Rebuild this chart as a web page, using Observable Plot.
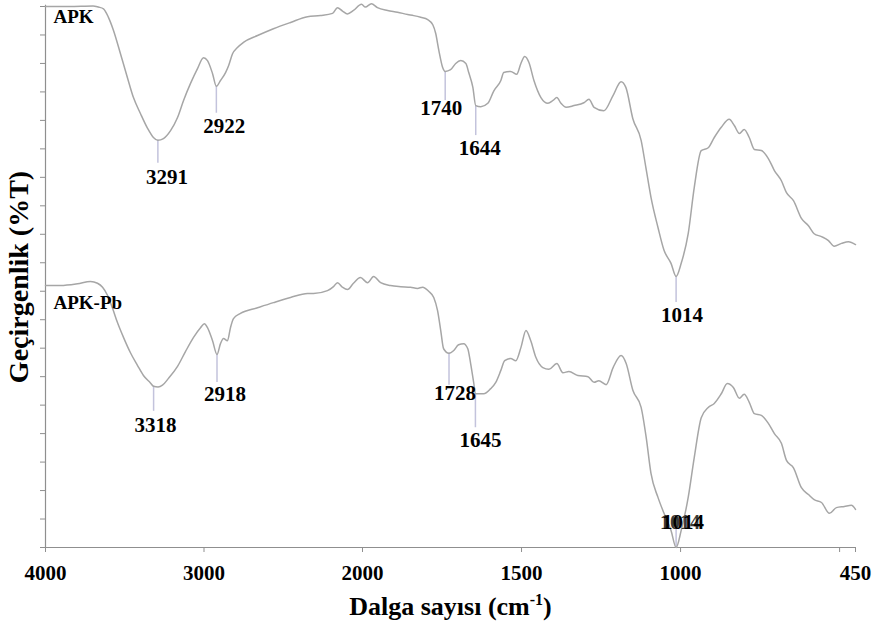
<!DOCTYPE html>
<html>
<head>
<meta charset="utf-8">
<script src="https://cdn.jsdelivr.net/npm/d3@7"></script>
<script src="https://cdn.jsdelivr.net/npm/@observablehq/plot@0.6"></script>
<style>
  html, body { margin: 0; padding: 0; background: #fff; }
  #chart svg { display: block; }
</style>
</head>
<body>
<div id="chart"></div>
<script>
// FTIR spectra: wavenumber (cm-1) and transmittance (%T)
const apkWavenumber = [4000, 3850, 3700, 3666, 3634, 3603, 3571, 3527, 3483, 3445, 3401, 3356, 3319, 3291, 3256, 3211, 3167, 3129, 3085, 3041, 3003, 2978, 2946, 2922, 2896, 2864, 2845, 2820, 2789, 2751, 2662, 2562, 2454, 2347, 2265, 2189, 2158, 2126, 2095, 2057, 2006, 1991, 1972, 1953, 1921, 1890, 1858, 1839, 1817, 1795, 1779, 1770, 1760, 1748, 1740, 1723, 1707, 1691, 1675, 1666, 1653, 1644, 1628, 1606, 1587, 1565, 1556, 1534, 1515, 1502, 1490, 1477, 1461, 1439, 1417, 1401, 1389, 1376, 1360, 1335, 1304, 1288, 1272, 1241, 1212, 1187, 1172, 1150, 1124, 1109, 1093, 1071, 1052, 1030, 1014, 998, 976, 957, 935, 913, 894, 872, 847, 831, 815, 800, 784, 768, 746, 724, 705, 683, 667, 645, 620, 598, 580, 557, 535, 517, 494, 472, 450];
const apkT = [95.0, 95.0, 95.1, 94.9, 94.6, 93.1, 90.8, 86.7, 82.5, 79.0, 76.2, 73.6, 72.0, 71.5, 71.8, 73.2, 75.5, 78.5, 81.5, 84.1, 86.0, 85.5, 83.2, 81.0, 82.0, 83.4, 84.6, 86.7, 87.8, 88.7, 89.9, 91.1, 92.2, 93.2, 93.4, 93.8, 94.8, 94.2, 93.7, 94.3, 95.4, 94.9, 95.5, 94.8, 94.3, 94.0, 93.6, 93.4, 93.1, 92.7, 91.8, 90.3, 87.3, 84.3, 83.6, 83.9, 85.0, 85.5, 85.0, 83.4, 80.8, 77.6, 77.4, 78.0, 80.2, 82.0, 83.4, 83.6, 83.1, 85.0, 86.2, 85.2, 82.0, 79.0, 78.0, 78.5, 79.0, 78.0, 77.3, 77.6, 78.1, 78.7, 77.3, 76.7, 79.4, 81.8, 80.8, 75.3, 71.5, 66.7, 61.5, 56.2, 52.2, 49.9, 47.6, 49.9, 55.1, 63.2, 69.7, 70.2, 72.0, 73.8, 75.2, 74.1, 72.7, 73.4, 72.0, 69.9, 69.7, 68.3, 66.2, 64.4, 62.3, 60.9, 57.8, 56.5, 55.1, 54.6, 53.9, 52.9, 53.4, 53.7, 53.2];

const apkPbWavenumber = [4000, 3905, 3798, 3716, 3672, 3640, 3609, 3577, 3546, 3508, 3464, 3420, 3382, 3338, 3318, 3290, 3262, 3224, 3167, 3117, 3066, 3022, 2997, 2978, 2946, 2918, 2896, 2877, 2852, 2833, 2814, 2770, 2662, 2562, 2454, 2347, 2309, 2221, 2183, 2158, 2126, 2095, 2057, 2013, 1984, 1965, 1943, 1912, 1880, 1849, 1827, 1811, 1792, 1776, 1764, 1754, 1745, 1728, 1713, 1698, 1682, 1669, 1660, 1650, 1645, 1619, 1597, 1581, 1565, 1553, 1534, 1518, 1502, 1486, 1471, 1455, 1433, 1414, 1389, 1370, 1351, 1323, 1291, 1272, 1257, 1234, 1212, 1187, 1171, 1150, 1124, 1108, 1093, 1071, 1052, 1030, 1014, 998, 976, 957, 935, 913, 894, 872, 853, 834, 815, 800, 784, 768, 746, 724, 705, 683, 667, 645, 620, 598, 580, 557, 532, 510, 485, 463, 450];
const apkPbT = [46.0, 46.0, 46.3, 46.7, 46.4, 45.7, 44.3, 42.0, 39.5, 36.9, 34.2, 32.0, 30.2, 28.9, 28.3, 28.2, 28.5, 29.7, 31.8, 34.4, 36.9, 38.6, 39.3, 38.6, 36.3, 33.9, 35.8, 36.7, 36.3, 38.6, 40.2, 41.1, 42.1, 43.0, 43.9, 44.6, 44.6, 45.1, 45.8, 46.5, 45.7, 45.3, 46.4, 47.4, 46.5, 47.6, 46.5, 46.0, 45.8, 45.7, 45.5, 45.7, 45.0, 43.9, 41.6, 38.1, 34.9, 34.1, 34.6, 35.6, 35.8, 34.9, 32.3, 28.8, 27.0, 27.0, 27.9, 29.0, 31.1, 32.8, 33.2, 32.8, 35.1, 38.1, 36.3, 33.4, 31.6, 31.3, 32.3, 30.7, 30.9, 30.2, 30.0, 29.0, 29.3, 28.6, 31.6, 33.7, 32.3, 27.6, 24.6, 19.3, 13.0, 8.8, 6.0, 3.0, 0.0, 3.0, 8.8, 15.8, 22.8, 24.6, 25.3, 27.0, 28.8, 28.1, 26.2, 26.9, 25.5, 23.5, 23.2, 21.8, 20.0, 18.3, 15.3, 14.0, 10.5, 9.3, 8.4, 7.9, 6.0, 7.0, 7.2, 7.4, 6.7];

// Labelled band positions (cm-1)
const apkPeaks = [3291, 2922, 1740, 1644, 1014];
const apkPbPeaks = [3318, 2918, 1728, 1645, 1014];

// Series names and axis text
const seriesNames = ["APK", "APK-Pb"];
const xTicks = [4000, 3000, 2000, 1500, 1000, 500, 450];
const xTickLabels = ["4000", "3000", "2000", "1500", "1000", "", "450"];
const yTicks = d3.range(0, 96, 5);
const xTitle = "Dalga sayısı (cm-1)";
const yTitle = "Geçirgenlik (%T)";

// ---- layout ----
const serif = "'Liberation Serif', 'Times New Roman', serif";
const lineColor = "#a6a6a6";
const leaderColor = "#c3c3dc";
const axisColor = "#8f8f8f";
const pxPerUnit = 541 / 95;

// leader length and label offsets in pixels, one row per band label
const apkLabelLayout = [
  {lead: 23, dx: 9, dy: 37},
  {lead: 27, dx: 8, dy: 40},
  {lead: 29, dx: -4, dy: 37},
  {lead: 30, dx: 4, dy: 43},
  {lead: 26, dx: 6, dy: 39}
];
const apkPbLabelLayout = [
  {lead: 25, dx: 2, dy: 39},
  {lead: 28, dx: 8, dy: 40},
  {lead: 32, dx: 6, dy: 40},
  {lead: 34, dx: 5, dy: 47},
  {lead: -20, dx: 7, dy: -25}
];

const toRows = (wn, t, series) => wn.map((w, i) => ({w, t: t[i], series}));
const apkRows = toRows(apkWavenumber, apkT, seriesNames[0]);
const apkPbRows = toRows(apkPbWavenumber, apkPbT, seriesNames[1]);

function peakRows(peaks, rows, layout) {
  return peaks.map((p, i) => {
    const r = rows.find(d => d.w === p);
    return {w: p, t: r.t, label: String(p), ...layout[i]};
  });
}
const peakData = [
  ...peakRows(apkPeaks, apkRows, apkLabelLayout),
  ...peakRows(apkPbPeaks, apkPbRows, apkPbLabelLayout)
];
const lastLabel = peakData[peakData.length - 1];

const textStyle = {fontFamily: serif, fontWeight: "bold", fill: "black"};
const labelY = d => d.t - d.dy / pxPerUnit;

const chart = Plot.plot({
  width: 883,
  height: 630,
  marginLeft: 45,
  marginRight: 28,
  marginTop: 6,
  marginBottom: 83,
  style: {background: "white", overflow: "visible"},
  x: {type: "linear", domain: [4000, 2000, 450], range: [45, 362, 855]},
  y: {domain: [0, 95], range: [547, 6]},
  marks: [
    // axis lines
    Plot.ruleX([4000], {y1: 0, y2: 95.2, stroke: axisColor, strokeWidth: 1.2}),
    Plot.ruleY([0], {x1: 4000, x2: 450, stroke: axisColor, strokeWidth: 1.2}),
    Plot.axisY({ticks: yTicks, tickSize: 5, tickFormat: () => "", stroke: axisColor, label: null}),
    Plot.axisX({
      ticks: xTicks, tickSize: 5, tickPadding: 13,
      tickFormat: d => xTickLabels[xTicks.indexOf(d)],
      fontSize: 21, ...textStyle, stroke: axisColor, label: null
    }),
    // leader lines from band minima to labels
    Plot.ruleX(peakData, {
      x: "w", y1: "t", y2: d => d.t - d.lead / pxPerUnit,
      stroke: leaderColor, strokeWidth: 1.5
    }),
    // spectra
    Plot.line(apkRows, {x: "w", y: "t", stroke: lineColor, strokeWidth: 1.5, curve: "monotone-x"}),
    Plot.line(apkPbRows, {x: "w", y: "t", stroke: lineColor, strokeWidth: 1.5, curve: "monotone-x"}),
    // the lower 1014 label is printed twice, slightly offset
    Plot.text([lastLabel], {
      x: "w", y: labelY, text: "label",
      dx: lastLabel.dx - 3, fontSize: 20, ...textStyle, fill: "#3a3a3a"
    }),
    // band labels, each with its own offset
    ...peakData.map(d => Plot.text([d], {
      x: "w", y: labelY, text: "label",
      dx: d.dx, fontSize: 21, ...textStyle
    })),
    // series names
    Plot.text(seriesNames, {
      x: 4000, y: [93.2, 43.0], text: d => d,
      textAnchor: "start", dx: 8, fontSize: 19, ...textStyle
    }),
    // axis titles
    Plot.text([yTitle], {frameAnchor: "left", textAnchor: "middle", dx: -26, rotate: -90, fontSize: 28, ...textStyle}),
    Plot.text([xTitle], {frameAnchor: "bottom", textAnchor: "middle", dy: 67, fontSize: 26, ...textStyle})
  ]
});

document.getElementById("chart").appendChild(chart);

// superscript on the wavenumber unit
d3.select(chart).selectAll("text")
  .filter(function () { return this.textContent === xTitle; })
  .each(function () {
    const t = d3.select(this);
    t.text("Dalga sayısı (cm");
    t.append("tspan").attr("dy", -10).attr("font-size", 16).text("-1");
    t.append("tspan").attr("dy", 10).text(")");
  });
</script>
</body>
</html>
